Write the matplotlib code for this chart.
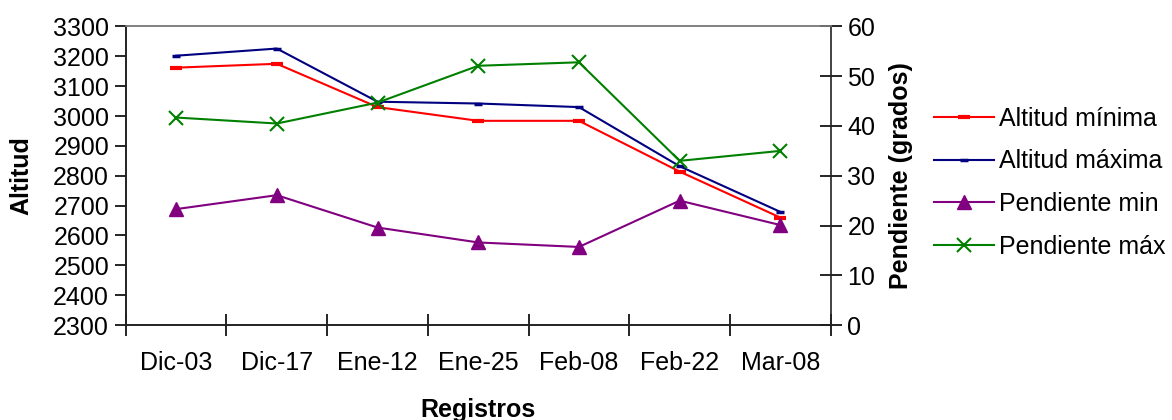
import numpy as np
import matplotlib.pyplot as plt

plt.rcParams['font.family'] = ['Liberation Sans', 'DejaVu Sans']

registros = ['Dic-03', 'Dic-17', 'Ene-12', 'Ene-25', 'Feb-08', 'Feb-22', 'Mar-08']
alt_min = [3162, 3175, 3030, 2984, 2984, 2814, 2660]
alt_max = [3202, 3226, 3048, 3042, 3030, 2832, 2679]
pend_min = [23.3, 26.1, 19.6, 16.6, 15.7, 25.0, 20.1]
pend_max = [41.7, 40.5, 44.7, 52.1, 52.8, 33.0, 35.0]

x = np.arange(len(registros))
fs = 18

fig = plt.figure(figsize=(11.72, 4.2), dpi=100)
ax1 = fig.add_axes([0.1073, 0.226, 0.6015, 0.711])
ax2 = ax1.twinx()

l1, = ax1.plot(x, alt_min, color='#ff0000', lw=1.5, marker='_', ms=8, mew=3,
               label='Altitud mínima')
l2, = ax1.plot(x, alt_max, color='#000080', lw=1.5, marker='_', ms=5.5, mew=2.5,
               label='Altitud máxima')
l3, = ax2.plot(x, pend_min, color='#800080', lw=1.5, marker='^', ms=10,
               label='Pendiente min')
l4, = ax2.plot(x, pend_max, color='#008000', lw=1.5, marker='x', ms=10, mew=1.5,
               label='Pendiente máx')

ax1.set_xlim(-0.5, len(registros) - 0.5)
ax1.set_ylim(2300, 3300)
ax1.set_yticks(np.arange(2300, 3301, 100))
ax2.set_ylim(0, 60)
ax2.set_yticks(np.arange(0, 61, 10))

# category separators as major ticks, names on minor ticks
ax1.set_xticks(np.arange(-0.5, len(registros), 1.0))
ax1.set_xticklabels([])
ax1.set_xticks(x, minor=True)
ax1.set_xticklabels(registros, minor=True)
ax1.tick_params(axis='x', which='major', direction='inout', length=16, width=1.2)
ax1.tick_params(axis='x', which='minor', length=0, pad=19, labelsize=fs)
ax1.tick_params(axis='y', direction='out', length=8, width=1.2, labelsize=fs, pad=4)
ax2.tick_params(axis='y', direction='inout', length=16, width=1.2, labelsize=fs, pad=4)

for ax in (ax1, ax2):
    ax.spines['top'].set_color('#808080')
    ax.spines['top'].set_linewidth(1.2)
    for s in ('left', 'right', 'bottom'):
        ax.spines[s].set_linewidth(1.2)
        ax.spines[s].set_color('#222222')
ax1.spines['right'].set_visible(False)

ax1.set_ylabel('Altitud', fontsize=fs, fontweight='bold', labelpad=14)
ax2.set_ylabel('Pendiente (grados)', fontsize=fs, fontweight='bold', labelpad=10)
ax1.set_xlabel('Registros', fontsize=fs, fontweight='bold', labelpad=16)

fig.legend(handles=[l1, l2, l3, l4], loc='center left',
           bbox_to_anchor=(0.797, 0.565), frameon=False, fontsize=fs,
           handlelength=2.4, handletextpad=0.2, labelspacing=0.75,
           borderaxespad=0, borderpad=0)

fig.savefig('out.png', dpi=100)
